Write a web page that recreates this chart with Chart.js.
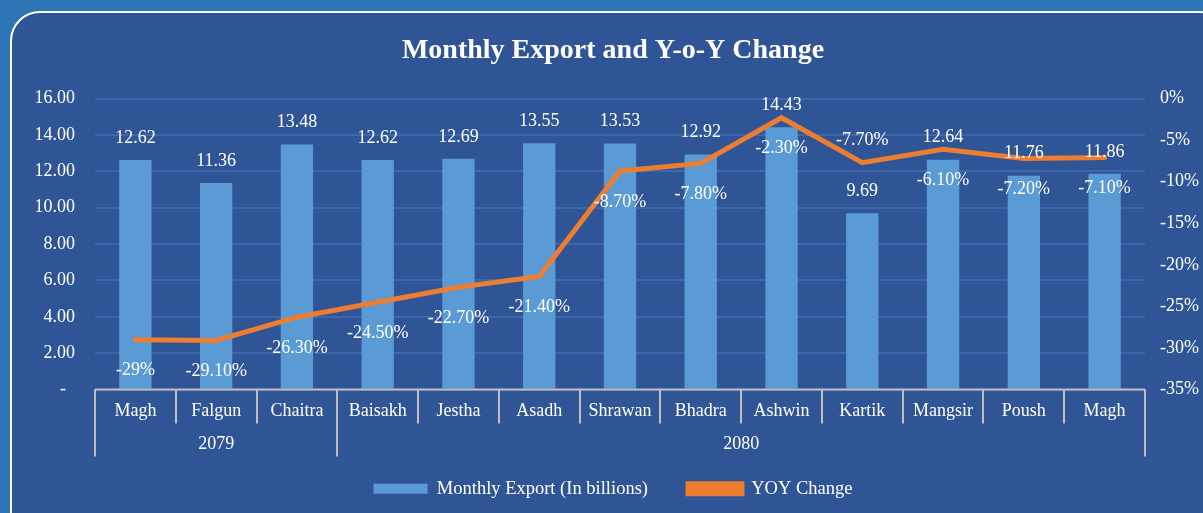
<!DOCTYPE html>
<html>
<head>
<meta charset="utf-8">
<script src="https://cdn.jsdelivr.net/npm/chart.js@4"></script>
<style>
  html, body { margin: 0; padding: 0; }
  body { width: 1203px; height: 513px; background: #2e75b6; position: relative; overflow: hidden; }
  #card {
    position: absolute; left: 10px; top: 11px; width: 1220px; height: 540px;
    background: #2f5597; border: 2px solid #ffffff; border-radius: 30px; box-sizing: border-box;
  }
  #wrap { position: absolute; left: 0; top: 0; width: 1226px; height: 513px; }
</style>
</head>
<body>
<div id="card"></div>
<div id="wrap"><canvas id="chart"></canvas></div>
<script>
// data
const months = ["Magh", "Falgun", "Chaitra", "Baisakh", "Jestha", "Asadh", "Shrawan", "Bhadra", "Ashwin", "Kartik", "Mangsir", "Poush", "Magh"];
const years = ["2079", "2080"];
const yearSpans = [3, 10];
const exportValues = [12.62, 11.36, 13.48, 12.62, 12.69, 13.55, 13.53, 12.92, 14.43, 9.69, 12.64, 11.76, 11.86];
const yoyValues = [-29, -29.1, -26.3, -24.5, -22.7, -21.4, -8.7, -7.8, -2.3, -7.7, -6.1, -7.2, -7.1];
const yoyLabelAbove = [false, false, false, false, false, false, false, false, false, true, false, false, false];

const FONT = "'Liberation Serif', 'Times New Roman', serif";

function pct(v) {
    return Number.isInteger(v) ? v + "%" : v.toFixed(2) + "%";
}

// draws the two-level category box and the year labels
const groupAxis = {
    id: "groupAxis",
    afterDraw(chart) {
        const ctx = chart.ctx;
        const area = chart.chartArea;
        const w = (area.right - area.left) / months.length;
        const y0 = area.bottom;
        ctx.save();
        ctx.strokeStyle = "#bfbfbf";
        ctx.lineWidth = 2;
        ctx.beginPath();
        ctx.moveTo(area.left, y0);
        ctx.lineTo(area.right, y0);
        ctx.stroke();

        let groupEdges = [0];
        let acc = 0;
        yearSpans.forEach(s => { acc += s; groupEdges.push(acc); });

        for (let i = 0; i <= months.length; i++) {
            const px = Math.round(area.left + i * w);
            const tall = groupEdges.includes(i);
            ctx.beginPath();
            ctx.moveTo(px, y0);
            ctx.lineTo(px, y0 + (tall ? 67 : 34));
            ctx.stroke();
        }

        ctx.fillStyle = "#ffffff";
        ctx.font = "18px " + FONT;
        ctx.textAlign = "center";
        ctx.textBaseline = "middle";
        for (let g = 0; g < years.length; g++) {
            const cx = area.left + (groupEdges[g] + groupEdges[g + 1]) / 2 * w;
            ctx.fillText(years[g], cx, y0 + 55);
        }
        ctx.restore();
    }
};

// value labels for bars and line
const valueLabels = {
    id: "valueLabels",
    afterDatasetsDraw(chart) {
        const ctx = chart.ctx;
        ctx.save();
        ctx.fillStyle = "#ffffff";
        ctx.font = "18px " + FONT;
        ctx.textAlign = "center";
        ctx.textBaseline = "middle";

        chart.getDatasetMeta(0).data.forEach((bar, i) => {
            ctx.fillText(exportValues[i].toFixed(2), bar.x, bar.y - 22);
        });
        chart.getDatasetMeta(1).data.forEach((pt, i) => {
            const dy = yoyLabelAbove[i] ? -22 : 31;
            ctx.fillText(pct(yoyValues[i]), pt.x, pt.y + dy);
        });
        ctx.restore();
    }
};

new Chart(document.getElementById("chart"), {
    type: "bar",
    data: {
        labels: months,
        datasets: [
            {
                type: "bar",
                label: "Monthly Export (In billions)",
                data: exportValues,
                backgroundColor: "#5b9bd5",
                barPercentage: 0.4,
                categoryPercentage: 1,
                yAxisID: "y",
                order: 2
            },
            {
                type: "line",
                label: "YOY Change",
                data: yoyValues,
                borderColor: "#ed7d31",
                backgroundColor: "#ed7d31",
                borderWidth: 5,
                pointRadius: 0,
                tension: 0,
                borderCapStyle: "round",
                yAxisID: "y2",
                order: 1
            }
        ]
    },
    options: {
        responsive: true,
        maintainAspectRatio: false,
        animation: false,
        layout: { padding: { left: 0, right: 0, top: 0, bottom: 5 } },
        plugins: {
            title: {
                display: true,
                text: "Monthly Export and Y-o-Y Change",
                color: "#ffffff",
                font: { family: FONT, size: 28, weight: "bold" },
                padding: { top: 34, bottom: 31 }
            },
            legend: {
                position: "bottom",
                labels: {
                    color: "#ffffff",
                    font: { family: FONT, size: 18.5 },
                    boxWidth: 54,
                    boxHeight: 10,
                    padding: 40,
                    sort: (a, b) => a.datasetIndex - b.datasetIndex
                }
            },
            tooltip: { enabled: false }
        },
        scales: {
            x: {
                offset: true,
                grid: { display: false },
                border: { display: false },
                ticks: { color: "#ffffff", font: { family: FONT, size: 18 }, padding: 3 },
                afterFit: s => { s.height = 50; }
            },
            y: {
                position: "left",
                min: 0,
                max: 16,
                ticks: {
                    stepSize: 2,
                    color: "#ffffff",
                    font: { family: FONT, size: 18 },
                    padding: 20,
                    callback: v => v === 0 ? "-  " : v.toFixed(2)
                },
                grid: { color: "#3d67ad", lineWidth: 2, drawTicks: false },
                border: { display: false },
                afterFit: s => { s.width = 95; }
            },
            y2: {
                position: "right",
                min: -35,
                max: 0,
                ticks: {
                    stepSize: 5,
                    color: "#ffffff",
                    font: { family: FONT, size: 18 },
                    padding: 15,
                    callback: v => v + "%"
                },
                grid: { display: false, drawTicks: false },
                border: { display: false },
                afterFit: s => { s.width = 81; }
            }
        }
    },
    plugins: [groupAxis, valueLabels]
});
</script>
</body>
</html>
